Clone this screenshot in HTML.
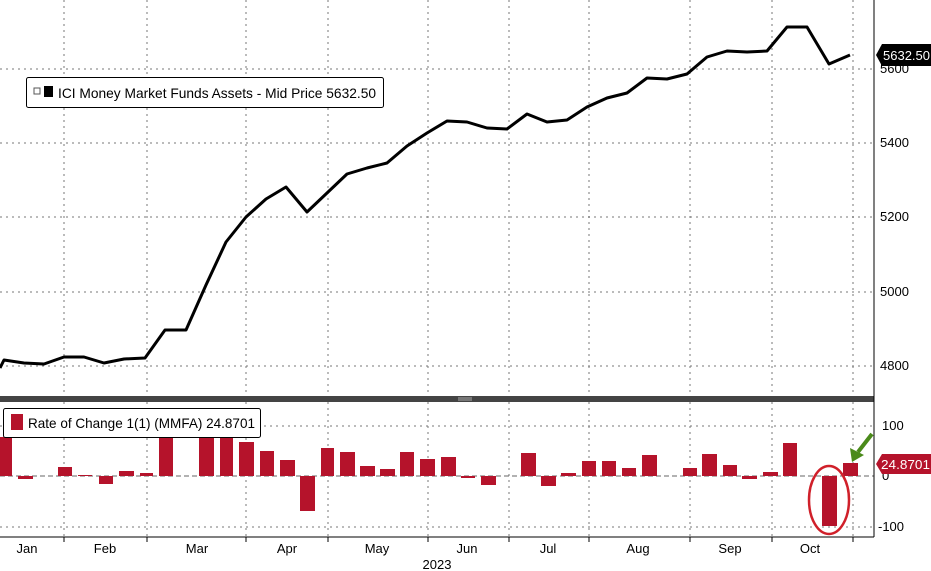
<!DOCTYPE html>
<html><head><meta charset="utf-8"><style>
html,body{margin:0;padding:0;background:#fff;}
svg{display:block;font-family:"Liberation Sans",sans-serif;}
</style></head><body>
<svg width="931" height="571" viewBox="0 0 931 571" xmlns="http://www.w3.org/2000/svg">
<rect width="931" height="571" fill="#fff"/>
<g stroke="#777" stroke-width="1" stroke-dasharray="2,4">
<line x1="64" y1="0" x2="64" y2="537"/><line x1="147" y1="0" x2="147" y2="537"/>
<line x1="246" y1="0" x2="246" y2="537"/><line x1="328" y1="0" x2="328" y2="537"/>
<line x1="428" y1="0" x2="428" y2="537"/><line x1="509" y1="0" x2="509" y2="537"/>
<line x1="589" y1="0" x2="589" y2="537"/><line x1="690" y1="0" x2="690" y2="537"/>
<line x1="772" y1="0" x2="772" y2="537"/><line x1="853" y1="0" x2="853" y2="537"/>
<line x1="0" y1="69" x2="874" y2="69"/><line x1="0" y1="143" x2="874" y2="143"/>
<line x1="0" y1="217" x2="874" y2="217"/><line x1="0" y1="292" x2="874" y2="292"/>
<line x1="0" y1="366" x2="874" y2="366"/>
<line x1="0" y1="426" x2="874" y2="426"/><line x1="0" y1="527" x2="874" y2="527"/>
</g>
<line x1="0" y1="476" x2="874" y2="476" stroke="#666" stroke-dasharray="5,3"/>
<polyline fill="none" stroke="#000" stroke-width="3" stroke-linejoin="round" points="0,368 4,360 24,363 44,364 64,357 84,357 104,363 124,359 145,358 165,330 186,330 206,285 226,242 246,217 266,199 286,187 307,212 327,193 347,174 367,168 387,163 407,146 427,133 447,121 467,122 487,128 507,129 527,114 547,122 567,120 587,107 607,98 627,93 647,78 667,79 687,74 707,57 727,51 747,52 767,51 787,27 807,27 829,64 850,55"/>
<rect x="0" y="396" width="874" height="6" fill="#444"/>
<line x1="458" y1="398" x2="472" y2="398" stroke="#aaa"/><line x1="458" y1="400" x2="472" y2="400" stroke="#aaa"/>
<g fill="#b5132b">
<rect x="0" y="437" width="12" height="39"/><rect x="18" y="476" width="15" height="3"/>
<rect x="58" y="467" width="14" height="9"/><rect x="78" y="475" width="14" height="1"/>
<rect x="99" y="476" width="14" height="8"/><rect x="119" y="471" width="15" height="5"/>
<rect x="140" y="473" width="13" height="3"/><rect x="159" y="437" width="14" height="39"/>
<rect x="199" y="437" width="15" height="39"/><rect x="220" y="437" width="13" height="39"/>
<rect x="239" y="442" width="15" height="34"/><rect x="260" y="451" width="14" height="25"/>
<rect x="280" y="460" width="15" height="16"/><rect x="300" y="476" width="15" height="35"/>
<rect x="321" y="448" width="13" height="28"/><rect x="340" y="452" width="15" height="24"/>
<rect x="360" y="466" width="15" height="10"/><rect x="380" y="469" width="15" height="7"/>
<rect x="400" y="452" width="14" height="24"/><rect x="420" y="459" width="15" height="17"/>
<rect x="441" y="457" width="15" height="19"/><rect x="461" y="476" width="14" height="2"/>
<rect x="481" y="476" width="15" height="9"/><rect x="521" y="453" width="15" height="23"/>
<rect x="541" y="476" width="15" height="10"/><rect x="561" y="473" width="15" height="3"/>
<rect x="582" y="461" width="14" height="15"/><rect x="602" y="461" width="14" height="15"/>
<rect x="622" y="468" width="14" height="8"/><rect x="642" y="455" width="15" height="21"/>
<rect x="683" y="468" width="14" height="8"/><rect x="702" y="454" width="15" height="22"/>
<rect x="723" y="465" width="14" height="11"/><rect x="742" y="476" width="15" height="3"/>
<rect x="763" y="472" width="15" height="4"/><rect x="783" y="443" width="14" height="33"/>
<rect x="822" y="476" width="15" height="50"/><rect x="843" y="463" width="15" height="13"/>
</g>
<ellipse cx="829" cy="500" rx="20" ry="34" fill="none" stroke="#d0202a" stroke-width="2.5"/>
<line x1="872" y1="434" x2="858" y2="452" stroke="#4a8a1a" stroke-width="4"/>
<polygon points="852,462 850,448 864,455" fill="#4a8a1a"/>
<line x1="874" y1="0" x2="874" y2="537" stroke="#000"/>
<line x1="0" y1="537" x2="874" y2="537" stroke="#000"/>
<g stroke="#000"><line x1="64" y1="537" x2="64" y2="542"/><line x1="147" y1="537" x2="147" y2="542"/><line x1="246" y1="537" x2="246" y2="542"/><line x1="328" y1="537" x2="328" y2="542"/><line x1="428" y1="537" x2="428" y2="542"/><line x1="509" y1="537" x2="509" y2="542"/><line x1="589" y1="537" x2="589" y2="542"/><line x1="690" y1="537" x2="690" y2="542"/><line x1="772" y1="537" x2="772" y2="542"/><line x1="853" y1="537" x2="853" y2="542"/></g>
<g font-size="13" fill="#000">
<text x="880" y="73">5600</text><text x="880" y="147">5400</text><text x="880" y="221">5200</text><text x="880" y="296">5000</text><text x="880" y="370">4800</text>
<text x="882" y="430">100</text><text x="882" y="480">0</text><text x="878" y="531">-100</text>
<g text-anchor="middle"><text x="27" y="553">Jan</text><text x="105" y="553">Feb</text><text x="197" y="553">Mar</text><text x="287" y="553">Apr</text><text x="377" y="553">May</text><text x="467" y="553">Jun</text><text x="548" y="553">Jul</text><text x="638" y="553">Aug</text><text x="730" y="553">Sep</text><text x="810" y="553">Oct</text><text x="437" y="569">2023</text></g>
</g>
<polygon points="876,55 882,44 931,44 931,66 882,66" fill="#000"/>
<text x="883" y="60" font-size="13" fill="#fff" textLength="47" lengthAdjust="spacingAndGlyphs">5632.50</text>
<polygon points="876,464 882,454 931,454 931,474 882,474" fill="#b5132b"/>
<text x="881" y="469" font-size="13" fill="#fff" textLength="49" lengthAdjust="spacingAndGlyphs">24.8701</text>
<rect x="26.5" y="77.5" width="357" height="30" fill="#fff" stroke="#000" rx="2"/>
<rect x="34" y="88" width="6" height="6" fill="none" stroke="#555"/>
<rect x="44" y="86" width="9" height="11" fill="#000"/>
<text x="58" y="98" font-size="14" textLength="318" lengthAdjust="spacingAndGlyphs">ICI Money Market Funds Assets - Mid Price 5632.50</text>
<rect x="3.5" y="408.5" width="257" height="29" fill="#fff" stroke="#000" rx="2"/>
<rect x="11" y="414" width="12" height="16" fill="#b5132b"/>
<text x="28" y="428" font-size="14" textLength="227" lengthAdjust="spacingAndGlyphs">Rate of Change 1(1) (MMFA) 24.8701</text>
</svg>
</body></html>
